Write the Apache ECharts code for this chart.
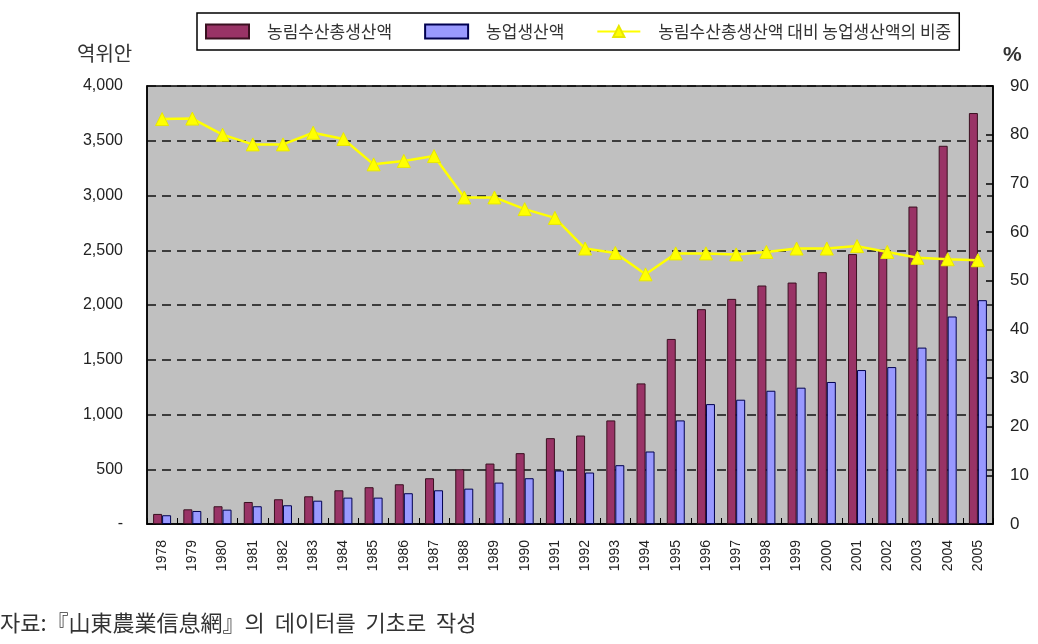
<!DOCTYPE html>
<html><head><meta charset="utf-8">
<script src="https://cdn.jsdelivr.net/npm/echarts@6/dist/echarts.min.js"></script>
<style>html,body{margin:0;padding:0;background:#fff}#c{width:1038px;height:644px}</style>
</head><body><div id="c"></div>
<script>
const years = ['1978','1979','1980','1981','1982','1983','1984','1985','1986','1987','1988','1989','1990','1991','1992','1993','1994','1995','1996','1997','1998','1999','2000','2001','2002','2003','2004','2005'];
const totalOutput = [92,134,162,201,226,253,308,336,363,418,500,552,647,784,808,946,1284,1690,1962,2056,2178,2205,2300,2465,2505,2899,3454,3753];
const agriOutput = [80,119,131,162,171,213,241,241,281,308,323,378,418,488,470,537,662,946,1095,1135,1217,1245,1297,1406,1433,1611,1895,2044];
const agriShare = [83.2,83.3,80.0,78.0,78.0,80.4,79.1,73.9,74.6,75.6,67.1,67.1,64.7,62.9,56.6,55.7,51.3,55.6,55.6,55.4,55.9,56.6,56.6,57.1,55.9,54.7,54.4,54.2];
const leftTicks = [0,500,1000,1500,2000,2500,3000,3500,4000];
const rightTicks = [0,10,20,30,40,50,60,70,80,90];
const seriesNames = ['농림수산총생산액','농업생산액','농림수산총생산액 대비 농업생산액의 비중'];
const leftUnit = '역위안';
const rightUnit = '%';
const sourceNote = '자료:『山東農業信息網』의  데이터를  기초로  작성';

const FONT = "'Noto Sans CJK KR', 'Liberation Sans', Arial, sans-serif";
const chart = echarts.init(document.getElementById('c'), null, {renderer:'canvas'});
chart.setOption({
  animation:false,
  textStyle:{fontFamily:FONT},
  grid:{left:147,right:45,top:86,bottom:120,show:true,backgroundColor:'#c0c0c0',borderColor:'#000',borderWidth:1.5},
  legend:{
    left:197, top:13, padding:[10,8,10,8], itemGap:32,
    backgroundColor:'#fff', borderColor:'#000', borderWidth:1.5, borderRadius:0,
    itemWidth:43, itemHeight:14,
    textStyle:{fontFamily:FONT,fontSize:17,lineHeight:16,color:'#333',padding:[0,0,0,13]},
    data:[
      {name:seriesNames[0], icon:'rect'},
      {name:seriesNames[1], icon:'rect'},
      {name:seriesNames[2]}
    ]
  },
  xAxis:{
    type:'category', data:years,
    axisLine:{lineStyle:{color:'#000',width:1.5}},
    axisTick:{show:true,inside:true,length:6,lineStyle:{color:'#000'}},
    axisLabel:{rotate:90,fontFamily:'Liberation Sans, Arial',fontSize:14,color:'#222',margin:16}
  },
  yAxis:[
    {type:'value',min:leftTicks[0],max:leftTicks[leftTicks.length-1],interval:leftTicks[1]-leftTicks[0],
     axisLine:{show:true,lineStyle:{color:'#000',width:1.5}},
     axisTick:{show:false},
     splitLine:{show:true,lineStyle:{color:'#111',width:1.5,type:[9,6]}},
     axisLabel:{margin:24,fontFamily:'Liberation Sans, Arial',fontSize:16,color:'#222',
       formatter:v=>v===0?'-':v.toLocaleString('en-US')}},
    {type:'value',min:rightTicks[0],max:rightTicks[rightTicks.length-1],interval:rightTicks[1]-rightTicks[0],position:'right',
     axisLine:{show:true,lineStyle:{color:'#000',width:1.5}},
     axisTick:{show:true,inside:true,length:7,lineStyle:{color:'#000',width:1.5}},
     splitLine:{show:false},
     axisLabel:{margin:17,fontFamily:'Liberation Sans, Arial',fontSize:17,color:'#222'}}
  ],
  series:[
    {name:seriesNames[0],type:'bar',data:totalOutput,barWidth:9,barGap:'0%',
     itemStyle:{color:'#993366',borderColor:'#3a1020',borderWidth:1}},
    {name:seriesNames[1],type:'bar',data:agriOutput,barWidth:9,barGap:'0%',
     itemStyle:{color:'#9999ff',borderColor:'#000050',borderWidth:1}},
    {name:seriesNames[2],type:'line',yAxisIndex:1,data:agriShare,
     symbol:'triangle',symbolSize:13,
     lineStyle:{color:'#ffff00',width:2.5},
     itemStyle:{color:'#ffff00',borderColor:'#e8e800',borderWidth:1}}
  ],
  graphic:[
    {type:'text',left:77,top:43,style:{text:leftUnit,fontFamily:FONT,fontSize:20,fill:'#333'}},
    {type:'text',left:1003,top:45,style:{text:rightUnit,fontFamily:'Liberation Sans, Arial',fontSize:21,fontWeight:'bold',fill:'#333'}},
    {type:'text',left:0,top:612,style:{text:sourceNote,fontFamily:FONT,fontSize:22,fill:'#333'}}
  ]
});
</script></body></html>
